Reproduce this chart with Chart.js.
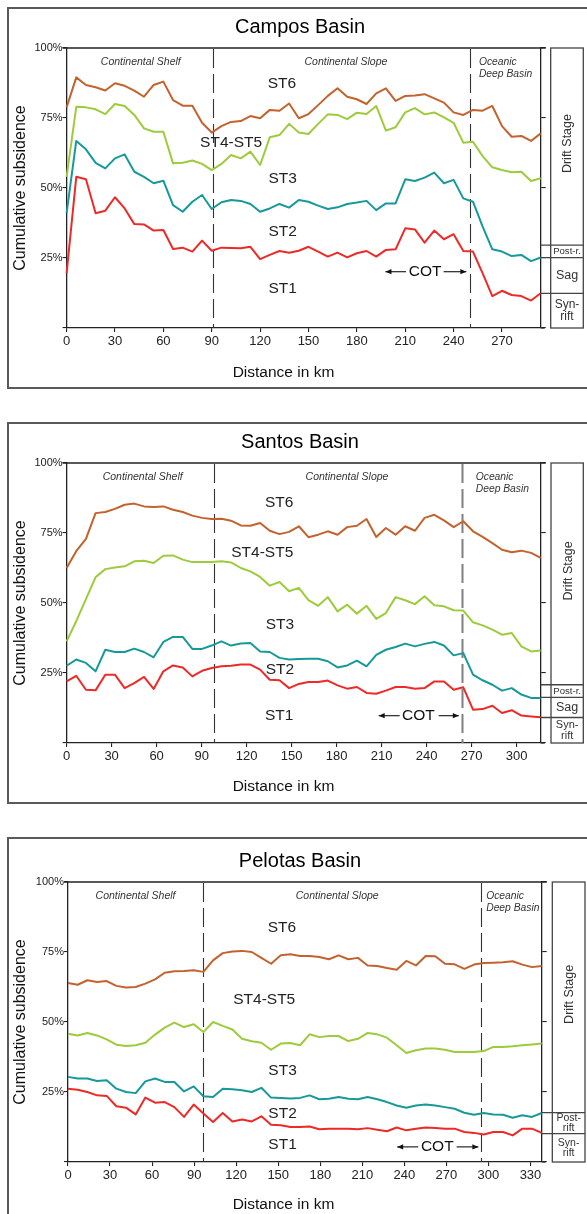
<!DOCTYPE html>
<html>
<head>
<meta charset="utf-8">
<script src="https://cdn.jsdelivr.net/npm/chart.js@4.4.1/dist/chart.umd.min.js"></script>
<style>
  html, body { margin: 0; padding: 0; background: #fff; }
  body { width: 587px; height: 1214px; overflow: hidden; position: relative; }
  .frame { position: absolute; border: 2px solid #5a5a5a; box-sizing: border-box; }
  canvas { position: absolute; left: 0; }
</style>
</head>
<body>
<div class="frame" id="f0"></div>
<div class="frame" id="f1"></div>
<div class="frame" id="f2"></div>
<canvas id="c0" width="587" height="380"></canvas>
<canvas id="c1" width="587" height="380"></canvas>
<canvas id="c2" width="587" height="380"></canvas>
<script>
// ---- Campos Basin: tops of each sequence (% cumulative subsidence) ----
const camposKm = [0, 6, 12, 18, 24, 30, 36, 42, 48, 54, 60, 66, 72, 78, 84, 90, 96, 102, 108, 114,
  120, 126, 132, 138, 144, 150, 156, 162, 168, 174, 180, 186, 192, 198, 204, 210, 216, 222, 228, 234,
  240, 246, 252, 258, 264, 270, 276, 282, 288, 294];
const camposST45 = [78.8, 89.5, 86.8, 86, 84.8, 87.4, 86.5, 84.8, 82.6, 86.8, 88, 81.4, 79.4, 79.4, 73.3, 69.8, 72.1, 73.6, 73.9, 75.7,
  74.9, 77.9, 77.6, 80.2, 74.9, 76.4, 79.6, 82.9, 85.6, 82.6, 81.7, 80, 83.8, 85.6, 81.1, 82.9, 83, 83.5, 82, 80.5,
  77, 76.1, 77.9, 77.6, 79.3, 72.1, 68.3, 68.6, 66.8, 69.5];
const camposST3 = [54, 79, 78.8, 78.1, 76.4, 80, 79.3, 76.1, 71.3, 70.1, 70.1, 58.8, 59, 59.8, 58.6, 56.4, 58.6, 61.8, 60.6, 63,
  58.2, 68.1, 68.9, 72.9, 69.8, 69.3, 72.9, 76.3, 76.1, 74.6, 76.9, 76.4, 79.3, 70.5, 71.7, 77, 78.5, 76.3, 77, 75.2,
  73.3, 66.2, 66.5, 61.4, 57.4, 56.4, 55.6, 55.8, 52.5, 53.5];
const camposST2 = [41, 66.8, 63.8, 59, 57, 60.6, 62, 55.8, 54, 51.7, 52.6, 43.9, 41.5, 45.1, 47.5, 42.5, 44.9, 45.7, 45.4, 44.3,
  41.5, 42.7, 44.3, 43, 45.7, 45.1, 43.7, 42.5, 43.1, 44.3, 44.8, 45.4, 42.1, 44.5, 44.5, 53.1, 52.5, 53.7, 55.5, 51.7,
  52.9, 46.3, 45.1, 36.2, 28.1, 27.3, 25.7, 26.1, 23.9, 25.2];
const camposST1 = [19.5, 54, 53.1, 41, 41.9, 46.7, 42.7, 37.1, 37, 34.8, 35, 28.2, 28.7, 27.3, 31.2, 27.6, 28.7, 28.6, 28.5, 29,
  24.6, 26.1, 27.5, 26.9, 27.6, 29, 27.3, 25.5, 26.9, 25.2, 26.7, 27.5, 25.5, 27.9, 28.1, 35.6, 35.2, 30.5, 34.8, 31.7,
  33.5, 27.5, 27.3, 19.5, 11.4, 13.3, 11.8, 11.4, 9.8, 12.4];
const camposStageTops = [29.6, 25.1, 12.4];   // Post-rift, Sag, Syn-rift tops

// ---- Santos Basin ----
const santosKm = [0, 6.4, 12.9, 19.3, 25.8, 32.2, 38.7, 45.1, 51.6, 58, 64.5, 70.9, 77.4, 83.8, 90.3, 96.7, 103.2, 109.6, 116.1, 122.5,
  129, 135.4, 141.9, 148.3, 154.8, 161.2, 167.7, 174.1, 180.6, 187, 193.5, 199.9, 206.4, 212.8, 219.3, 225.7, 232.2, 238.6, 245.1, 251.5,
  258, 264.4, 270.9, 277.3, 283.8, 290.2, 296.7, 303.1, 309.6, 316];
const santosST45 = [62.5, 68.5, 72.9, 82.1, 82.5, 83.6, 85.1, 85.5, 84.5, 84.3, 84.5, 83.3, 82.5, 81.2, 80.4, 80, 80.1, 79.4, 77.7, 77.6,
  78.6, 75.8, 74.6, 75.4, 77.4, 73.5, 74.4, 75.6, 74.4, 77.1, 77.6, 80, 73.6, 76.8, 74.4, 77.4, 75.8, 80.4, 81.5, 79.5,
  77.1, 79.2, 75.6, 73.6, 71.4, 69, 68.1, 68.7, 67.9, 66.1];
const santosST3 = [36.3, 43.5, 51.4, 59.2, 62.1, 62.7, 63.1, 64.9, 65.1, 64.3, 66.9, 67, 65.5, 64.6, 64.6, 64.6, 64.9, 64.5, 62.5, 61.3,
  59.3, 56.2, 57.5, 54.2, 55.4, 51, 49, 52.1, 47, 49.4, 46.2, 49, 44.3, 46.4, 52.1, 51, 49.6, 52.4, 49.2, 48.8,
  47.4, 47.3, 43.1, 42, 40.5, 38.7, 39.3, 34.5, 32.7, 33];
const santosST2 = [27.6, 29.8, 28.6, 25.6, 33.3, 32.5, 32.5, 33.7, 32.5, 30.6, 36.1, 37.9, 37.9, 33.6, 33.6, 34.8, 36.3, 34.8, 35.5, 35.7,
  32.7, 32.5, 30.4, 29.8, 30, 30.1, 30.1, 29.2, 27, 27.7, 29.4, 27.4, 31.5, 33.3, 34.3, 35.5, 34.5, 35.4, 36.1, 34.8,
  31.3, 32.1, 24.4, 22.4, 20.8, 18.7, 19.6, 17.3, 16.1, 16.1];
const santosST1 = [22, 24, 19, 18.8, 24.4, 24.4, 19.6, 21.4, 23.6, 19.3, 25.6, 27.7, 27, 23.8, 25.8, 26.8, 27.4, 27.6, 28, 28,
  26.2, 22.6, 22.4, 19.6, 21.1, 21.8, 21.8, 22.3, 20.6, 19.4, 20, 17.9, 17.6, 18.7, 20, 20, 19.4, 19.6, 22, 22,
  19, 19.9, 11.9, 12.1, 13.3, 10.7, 11.7, 9.8, 9.5, 9.2];
const santosStageTops = [20.8, 16.3, 9.1];

// ---- Pelotas Basin ----
const pelotasKm = [0, 6.9, 13.8, 20.7, 27.6, 34.5, 41.4, 48.3, 55.2, 62.1, 69, 75.9, 82.8, 89.7, 96.6, 103.5, 110.4, 117.3, 124.2, 131.1,
  138, 144.9, 151.8, 158.7, 165.6, 172.4, 179.3, 186.2, 193.1, 200, 206.9, 213.8, 220.7, 227.6, 234.5, 241.4, 248.3, 255.2, 262.1, 269,
  275.9, 282.8, 289.7, 296.6, 303.5, 310.4, 317.3, 324.2, 331.1, 338];
const pelotasST45 = [63.9, 63.3, 64.9, 64.3, 64.6, 62.9, 62.3, 62.5, 63.7, 65.2, 67.6, 68.1, 68.2, 68.5, 67.9, 72, 74.6, 75.2, 75.4, 75,
  72.9, 70.8, 73.8, 74.2, 73.6, 73.6, 73.2, 72.4, 73.8, 72.4, 72.9, 70.2, 70, 69.3, 68.7, 71.8, 70.2, 73.6, 73.5, 70.8,
  70.6, 69, 70.5, 71.1, 71.2, 71.3, 71.7, 70.5, 69.6, 70];
const pelotasST3 = [45.8, 45.2, 46.1, 45.2, 43.8, 41.9, 41.4, 41.7, 42.6, 45.5, 48, 49.8, 48.2, 49.2, 46.4, 50, 48.6, 47.3, 44, 43.1,
  42.6, 40.1, 42.3, 42.5, 41.7, 45.6, 44.6, 45, 45, 43.2, 44, 46.1, 45.6, 44.4, 41.7, 38.9, 39.9, 40.5, 40.5, 40.1,
  39.3, 39.3, 39.3, 39.6, 41.1, 41.1, 41.3, 41.7, 42, 42.3];
const pelotasST2 = [30.4, 29.8, 29.8, 28.9, 29.2, 26.2, 25, 24.6, 28.8, 29.8, 28.6, 28.6, 25.2, 27, 23.5, 23.2, 26.2, 26, 25.6, 25,
  26.5, 23, 22.9, 22.7, 22.9, 23.8, 22.4, 22.6, 23.2, 22.6, 22.4, 23.2, 22.4, 21.4, 20.2, 19.4, 20.2, 20.5, 20.2, 19.6,
  19, 17.6, 16.9, 17.5, 17, 16.9, 15.8, 16.7, 16.1, 17.5];
const pelotasST1 = [26.2, 25.8, 25, 23.8, 23.6, 19.9, 19.4, 17, 23, 21.2, 21.4, 19.6, 16.1, 20.5, 17.3, 14.3, 17.5, 14.5, 15.2, 14.5,
  16.3, 13.3, 13.1, 12.5, 12.5, 12.7, 11.7, 11.9, 11.9, 11.9, 11.7, 12.1, 11.5, 11, 12.3, 11.3, 11.9, 12.3, 12.1, 11.9,
  11.9, 10.7, 10.4, 9.8, 10.7, 10.7, 9.5, 11.9, 11.9, 10.4];
const pelotasStageTops = [17.6, 10.1];

const xTickStep = 30;
const yTickLabels = ['25%', '50%', '75%', '100%'];

// ---- styling ----
const FONT = '"Liberation Sans", Arial, Helvetica, sans-serif';
const COLORS = { st45: '#c4622d', st3: '#9dcb3c', st2: '#17999b', st1: '#ec2a27' };
const INK = '#222';

const panels = [
  {
    canvas: 'c0', frame: 'f0', title: 'Campos Basin',
    plotTop: 48, frameTop: 7.5, frameBottom: 388.3,
    left: 66.6, right: 540.7, xMax: 294,
    km: camposKm, tops: [camposST45, camposST3, camposST2, camposST1],
    dashes: [90.8, 250], cotWide: false,
    zones: { shelf: 46, slope: 173.2, ocean: 255.7 },
    st: [['ST6', 133.5, 87.4], ['ST4-ST5', 102, 66], ['ST3', 134, 53.2], ['ST2', 134, 34.4], ['ST1', 134, 14.2]],
    cot: { x: 222.3, y: 20.1, a: [197.7, 210.5], b: [233.8, 247.9] },
    box: [550.7, 583.3], stageTops: camposStageTops,
    stages: [['Drift Stage', 12.5], ['Post-r.', 9.6], ['Sag', 12.5], ['Syn-|rift', 12]],
    xTitleDy: 44.7
  },
  {
    canvas: 'c1', frame: 'f1', title: 'Santos Basin',
    plotTop: 463.3, frameTop: 423.3, frameBottom: 803.3,
    left: 66.6, right: 540.7, xMax: 316,
    km: santosKm, tops: [santosST45, santosST3, santosST2, santosST1],
    dashes: [98.5, 263.5], cotWide: true,
    zones: { shelf: 50.7, slope: 186.9, ocean: 272.7 },
    st: [['ST6', 141.7, 85.9], ['ST4-ST5', 130.4, 67.9], ['ST3', 142.2, 42.3], ['ST2', 142.2, 26.2], ['ST1', 141.7, 9.75]],
    cot: { x: 234.5, y: 9.75, a: [208, 222], b: [248, 261.4] },
    box: [551, 583.3], stageTops: santosStageTops,
    stages: [['Drift Stage', 12.5], ['Post-r.', 9.6], ['Sag', 12.5], ['Syn-|rift', 11]],
    xTitleDy: 43.4
  },
  {
    canvas: 'c2', frame: 'f2', title: 'Pelotas Basin',
    plotTop: 881.7, frameTop: 838, frameBottom: 1260,
    left: 68, right: 541.7, xMax: 338,
    km: pelotasKm, tops: [pelotasST45, pelotasST3, pelotasST2, pelotasST1],
    dashes: [96.5, 294.6], cotWide: false,
    zones: { shelf: 48.2, slope: 192.1, ocean: 298.4 },
    st: [['ST6', 152.6, 83.6], ['ST4-ST5', 140, 58.1], ['ST3', 153.1, 32.75], ['ST2', 153.1, 17.3], ['ST1', 153.1, 6.3]],
    cot: { x: 263.5, y: 5.4, a: [234.9, 249.9], b: [277.3, 292.8] },
    box: [552.3, 585], stageTops: pelotasStageTops,
    stages: [['Drift Stage', 12.5], ['Post-|rift', 10.5], ['Syn-|rift', 10.5]],
    xTitleDy: 42.5
  }
];

const PLOT_OFFSET = 40;   // chart area top inside each canvas
const PLOT_H = 280;

function text(ctx, s, x, y, size, o = {}) {
  ctx.save();
  ctx.font = (o.italic ? 'italic ' : '') + size + 'px ' + FONT;
  ctx.fillStyle = o.color || INK;
  ctx.textAlign = o.align || 'center';
  ctx.textBaseline = 'middle';
  if (o.rot) { ctx.translate(x, y); ctx.rotate(o.rot); ctx.fillText(s, 0, 0); }
  else ctx.fillText(s, x, y);
  ctx.restore();
}

function arrow(ctx, x1, x2, y, headAtStart) {
  ctx.save();
  ctx.strokeStyle = '#111'; ctx.fillStyle = '#111'; ctx.lineWidth = 1.1;
  ctx.beginPath(); ctx.moveTo(x1, y); ctx.lineTo(x2, y); ctx.stroke();
  const hx = headAtStart ? x1 : x2, dir = headAtStart ? 1 : -1;
  ctx.beginPath();
  ctx.moveTo(hx, y); ctx.lineTo(hx + dir * 6, y - 2.6); ctx.lineTo(hx + dir * 6, y + 2.6);
  ctx.closePath(); ctx.fill();
  ctx.restore();
}

const decor = {
  id: 'decor',
  beforeDatasetsDraw(chart) {
    const P = chart.$panel, ctx = chart.ctx, a = chart.chartArea, xs = chart.scales.x;
    ctx.save();
    P.dashes.forEach((d, i) => {
      const wide = P.cotWide && i === 1;
      ctx.strokeStyle = wide ? '#808080' : '#333';
      ctx.lineWidth = wide ? 2 : 1.1;
      ctx.setLineDash([19, 6]);
      const x = Math.round(xs.getPixelForValue(d)) + 0.5;
      ctx.beginPath(); ctx.moveTo(x, a.top + 1); ctx.lineTo(x, a.bottom); ctx.stroke();
    });
    ctx.restore();
  },
  afterDraw(chart) {
    const P = chart.$panel, ctx = chart.ctx, a = chart.chartArea;
    const xs = chart.scales.x, ys = chart.scales.y;
    // top edge of the plot frame, running just past both axes
    ctx.save();
    ctx.strokeStyle = INK; ctx.lineWidth = 1.3;
    ctx.beginPath(); ctx.moveTo(a.left - 4, a.top); ctx.lineTo(a.right + 5, a.top); ctx.stroke();
    ctx.beginPath(); ctx.moveTo(a.right, a.bottom); ctx.lineTo(a.right + 4, a.bottom); ctx.stroke();
    ctx.restore();

    // titles
    text(ctx, P.title, 300, a.top - 21, 20, { color: '#000' });
    text(ctx, 'Cumulative subsidence', 21, (a.top + a.bottom) / 2, 16, { rot: -Math.PI / 2, color: '#111' });
    text(ctx, 'Distance in km', 283.5, a.bottom + P.xTitleDy, 15.5, { color: '#111' });

    // physiographic zones
    const zy = a.top + 14;
    text(ctx, 'Continental Shelf', xs.getPixelForValue(P.zones.shelf), zy, 10.5, { italic: true, color: '#333' });
    text(ctx, 'Continental Slope', xs.getPixelForValue(P.zones.slope), zy, 10.5, { italic: true, color: '#333' });
    const ox = xs.getPixelForValue(P.zones.ocean);
    text(ctx, 'Oceanic', ox, zy - 0.3, 10.3, { italic: true, color: '#333', align: 'left' });
    text(ctx, 'Deep Basin', ox, zy + 12.5, 10.3, { italic: true, color: '#333', align: 'left' });

    // sequence labels
    P.st.forEach(([s, kx, py]) => text(ctx, s, xs.getPixelForValue(kx), ys.getPixelForValue(py), 15.5));

    // continent-ocean transition
    const cy = ys.getPixelForValue(P.cot.y);
    text(ctx, 'COT', xs.getPixelForValue(P.cot.x), cy, 15.5, { color: '#111' });
    arrow(ctx, xs.getPixelForValue(P.cot.a[0]), xs.getPixelForValue(P.cot.a[1]), cy, true);
    arrow(ctx, xs.getPixelForValue(P.cot.b[0]), xs.getPixelForValue(P.cot.b[1]), cy, false);

    // tectonic stage column
    const [bl, br] = P.box;
    ctx.save();
    ctx.strokeStyle = '#444'; ctx.lineWidth = 1.3;
    ctx.strokeRect(bl, a.top, br - bl, a.bottom - a.top);
    const edges = [a.top];
    P.stageTops.forEach(v => {
      const y = ys.getPixelForValue(v);
      edges.push(y);
      ctx.beginPath(); ctx.moveTo(a.right, y); ctx.lineTo(br, y); ctx.stroke();
    });
    edges.push(a.bottom);
    ctx.restore();
    const cx = (bl + br) / 2;
    P.stages.forEach(([name, size], i) => {
      const mid = (edges[i] + edges[i + 1]) / 2;
      if (i === 0) { text(ctx, name, cx + 1, mid - 3, size, { rot: -Math.PI / 2, color: '#333' }); return; }
      const parts = name.split('|');
      if (parts.length === 1) text(ctx, name, cx, mid, size, { color: '#333' });
      else {
        const h = size * 0.5;
        text(ctx, parts[0], cx, mid - h, size, { color: '#333' });
        text(ctx, parts[1], cx, mid + h, size, { color: '#333' });
      }
    });
  }
};

Chart.register(decor);

panels.forEach(P => {
  const cv = document.getElementById(P.canvas);
  cv.style.top = (P.plotTop - PLOT_OFFSET) + 'px';
  const fr = document.getElementById(P.frame);
  Object.assign(fr.style, { left: '7px', top: (P.frameTop - 1) + 'px', width: '700px', height: (P.frameBottom - P.frameTop + 2) + 'px' });

  const colorList = [COLORS.st45, COLORS.st3, COLORS.st2, COLORS.st1];
  const names = ['ST4-ST5 top', 'ST3 top', 'ST2 top', 'ST1 top'];
  const datasets = P.tops.map((vals, i) => ({
    label: names[i],
    data: P.km.map((k, j) => ({ x: k, y: vals[j] })),
    borderColor: colorList[i],
    borderWidth: 2,
    pointRadius: 0,
    tension: 0,
    fill: false,
    borderJoinStyle: 'round',
    clip: 3
  }));

  const axisGrid = { drawOnChartArea: false, drawTicks: true, tickLength: 4, color: INK, lineWidth: 1.1 };
  const axisBorder = { display: true, color: INK, width: 1.3 };

  new Chart(cv, {
    type: 'line',
    data: { datasets },
    options: {
      responsive: false, animation: false, devicePixelRatio: 1, events: [],
      layout: { padding: { top: PLOT_OFFSET, left: 0, right: 0, bottom: 0 } },
      plugins: { legend: { display: false }, tooltip: { enabled: false }, title: { display: false } },
      scales: {
        x: {
          type: 'linear', min: 0, max: P.xMax,
          afterBuildTicks: s => { s.ticks = s.ticks.filter(t => Math.abs(t.value % xTickStep) < 1e-6); },
          afterFit: s => { s.height = 380 - PLOT_OFFSET - PLOT_H; },
          ticks: { stepSize: xTickStep, includeBounds: false, autoSkip: false, maxRotation: 0, padding: 2,
                   color: INK, font: { size: 13, family: FONT } },
          grid: axisGrid, border: axisBorder
        },
        y: {
          min: 0, max: 100, position: 'left',
          afterFit: s => { s.width = P.left; },
          ticks: { stepSize: 25, padding: 0, color: INK, font: { size: 11, family: FONT },
                   callback: v => (v > 0 ? yTickLabels[v / 25 - 1] : '') },
          grid: axisGrid, border: axisBorder
        },
        y2: {
          min: 0, max: 100, position: 'right',
          afterFit: s => { s.width = 587 - P.right; },
          ticks: { stepSize: 25, display: false },
          grid: { drawOnChartArea: false, drawTicks: true, tickLength: 5, color: INK, lineWidth: 1.1 },
          border: axisBorder
        }
      }
    },
    plugins: [{ id: 'panelRef', beforeInit(c) { c.$panel = P; } }]
  });
});
</script>
</body>
</html>
